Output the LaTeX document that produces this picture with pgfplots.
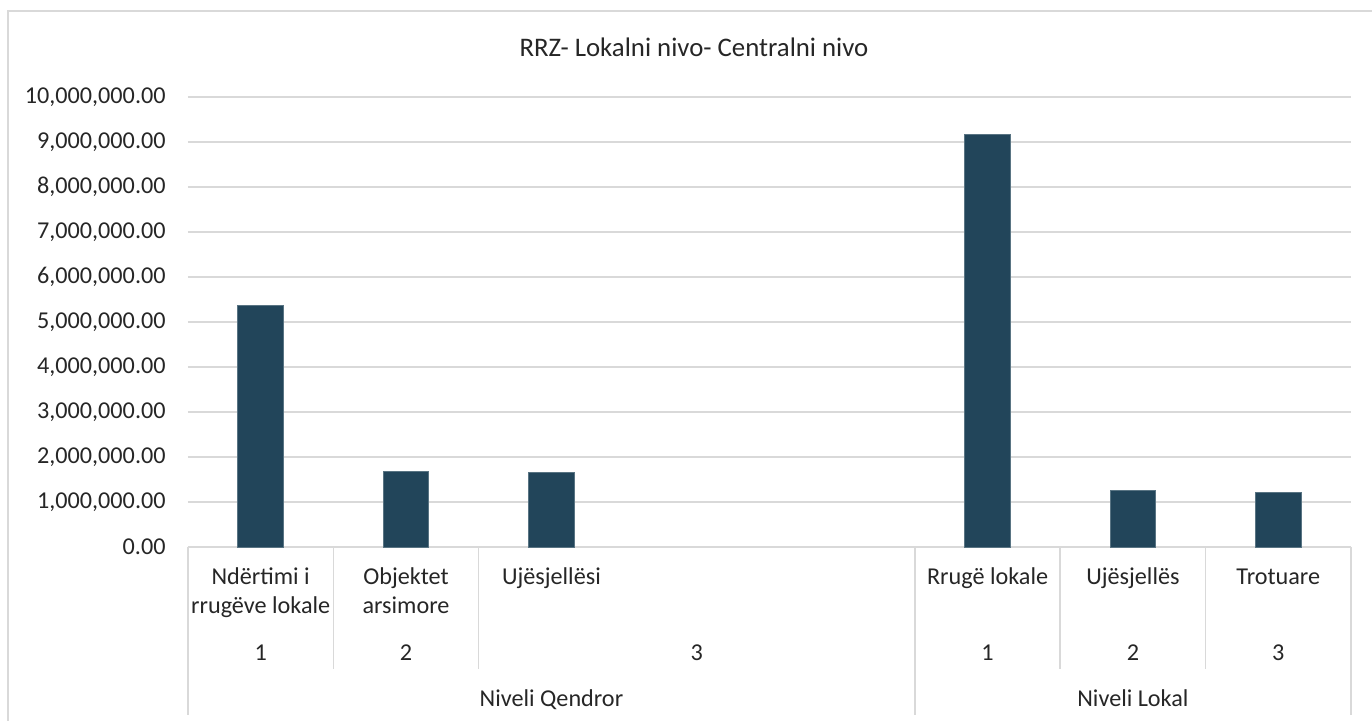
\documentclass[border=0pt]{standalone}
\usepackage{pgfplots}
\pgfplotsset{compat=1.18}
\usepackage{fontspec}
\setmainfont{Carlito}
\definecolor{barc}{RGB}{34,69,90}
\definecolor{gridc}{RGB}{217,217,217}
\definecolor{txt}{RGB}{38,38,38}
\begin{document}
\begin{tikzpicture}
\useasboundingbox (0pt,0pt) rectangle (686pt,360.5pt);
\draw[gridc, line width=0.75pt] (4pt,-10pt) -- (4pt,355pt) -- (700pt,355pt);
\node[anchor=base, txt, inner sep=0pt, font=\fontsize{13.4}{16}\selectfont] at (347pt,332pt) {RRZ- Lokalni nivo- Centralni nivo};
\begin{axis}[
  at={(94pt,87pt)}, anchor=south west,
  width=581.5pt, height=225pt, scale only axis,
  xmin=0, xmax=8, ymin=0, ymax=10000000,
  axis line style={draw=none},
  xtick=\empty, major tick length=0pt,
  ytick={0,1000000,2000000,3000000,4000000,5000000,6000000,7000000,8000000,9000000,10000000},
  yticklabels={{0.00},{1,000,000.00},{2,000,000.00},{3,000,000.00},{4,000,000.00},{5,000,000.00},{6,000,000.00},{7,000,000.00},{8,000,000.00},{9,000,000.00},{10,000,000.00}},
  yticklabel style={anchor=east, inner sep=0pt, xshift=-11pt, text=txt, font=\fontsize{12.1}{14}\selectfont},
  ymajorgrids, grid style={gridc, line width=0.75pt},
  scaled y ticks=false,
  clip=false,
]
\addplot[ybar, bar width=22.8pt, fill=barc, draw=barc!75!white, line width=0.4pt]
  coordinates {(0.5,5370000) (1.5,1675000) (2.5,1653000) (5.5,9170000) (6.5,1253000) (7.5,1222000)};
% category axis separators
\pgfplotsinvokeforeach{0,5,8}{\draw[gridc, line width=0.75pt] (axis cs:#1,0) -- ++(0pt,-84pt);}
\pgfplotsinvokeforeach{1,2,6,7}{\draw[gridc, line width=0.75pt] (axis cs:#1,0) -- ++(0pt,-61pt);}
% labels
\tikzset{cl/.style={anchor=base, text=txt, inner sep=0pt, font=\fontsize{12.1}{14}\selectfont}}
\node[cl, yshift=-19pt] at (axis cs:0.5,0) {Ndërtimi i};
\node[cl, yshift=-33.5pt] at (axis cs:0.5,0) {rrugëve lokale};
\node[cl, yshift=-19pt] at (axis cs:1.5,0) {Objektet};
\node[cl, yshift=-33.5pt] at (axis cs:1.5,0) {arsimore};
\node[cl, yshift=-19pt] at (axis cs:2.5,0) {Ujësjellësi};
\node[cl, yshift=-19pt] at (axis cs:5.5,0) {Rrugë lokale};
\node[cl, yshift=-19pt] at (axis cs:6.5,0) {Ujësjellës};
\node[cl, yshift=-19pt] at (axis cs:7.5,0) {Trotuare};
\node[cl, yshift=-57pt] at (axis cs:0.5,0) {1};
\node[cl, yshift=-57pt] at (axis cs:1.5,0) {2};
\node[cl, yshift=-57pt] at (axis cs:3.5,0) {3};
\node[cl, yshift=-57pt] at (axis cs:5.5,0) {1};
\node[cl, yshift=-57pt] at (axis cs:6.5,0) {2};
\node[cl, yshift=-57pt] at (axis cs:7.5,0) {3};
\node[cl, yshift=-80pt] at (axis cs:2.5,0) {Niveli Qendror};
\node[cl, yshift=-80pt] at (axis cs:6.5,0) {Niveli Lokal};
\end{axis}
\end{tikzpicture}
\end{document}
